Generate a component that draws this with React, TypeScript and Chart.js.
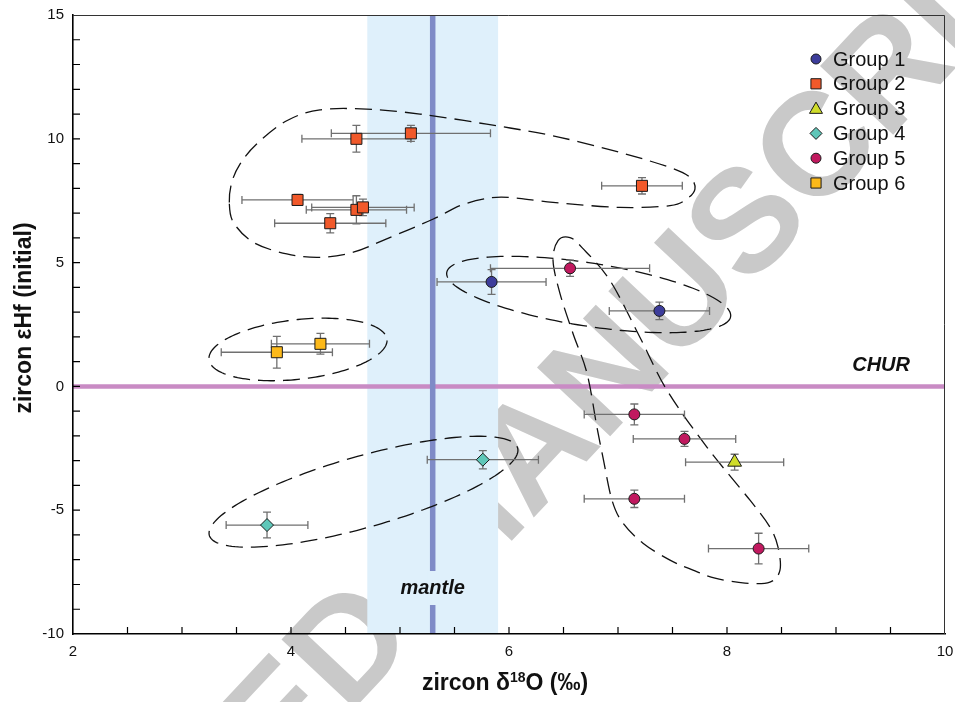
import React, { useEffect, useRef } from 'react';
import { Chart, registerables } from 'chart.js';

Chart.register(...registerables);

// ---- data -------------------------------------------------------------
const groupLabels = ['Group 1', 'Group 2', 'Group 3', 'Group 4', 'Group 5', 'Group 6'];

// zircon δ18O (‰), εHf(initial) and their uncertainties per group
const g1D18O = [5.84, 7.38];
const g1EHf = [4.22, 3.05];
const g1D18OErr = [0.5, 0.46];
const g1EHfErr = [0.5, 0.35];

const g2D18O = [4.6, 5.1, 4.06, 4.6, 4.66, 4.36, 7.22];
const g2EHf = [10.0, 10.22, 7.53, 7.13, 7.23, 6.59, 8.1];
const g2D18OErr = [0.5, 0.73, 0.51, 0.46, 0.47, 0.51, 0.37];
const g2EHfErr = [0.54, 0.32, 0.22, 0.57, 0.33, 0.39, 0.33];

const g3D18O = [8.07];
const g3EHf = [-3.06];
const g3D18OErr = [0.45];
const g3EHfErr = [0.32];

const g4D18O = [5.76, 3.78];
const g4EHf = [-2.96, -5.6];
const g4D18OErr = [0.51, 0.375];
const g4EHfErr = [0.37, 0.52];

const g5D18O = [6.56, 7.15, 7.61, 7.15, 8.29];
const g5EHf = [4.77, -1.13, -2.12, -4.54, -6.55];
const g5D18OErr = [0.73, 0.46, 0.47, 0.46, 0.46];
const g5EHfErr = [0.33, 0.42, 0.3, 0.35, 0.62];

const g6D18O = [3.87, 4.27];
const g6EHf = [1.38, 1.72];
const g6D18OErr = [0.51, 0.45];
const g6EHfErr = [0.64, 0.42];

// axis ranges and labelled ticks
const xRange = [2, 10];
const yRange = [-10, 15];
const xLabelStep = 2;
const yLabelStep = 5;
const xMinorStep = 0.5;
const yMinorStep = 1;

// mantle zircon δ18O band and its mean, chondritic reference
const mantleBand = [4.7, 5.9];
const mantleMean = 5.3;
const churEHf = 0;

// grouping outlines (data units)
const group2Outline = [
  [3.434, 7.43], [3.456, 8.23], [3.532, 8.98], [3.685, 9.79], [3.961, 10.73], [4.266, 11.17],
  [4.694, 11.2], [5.183, 11.0], [5.795, 10.59], [6.404, 10.12], [7.018, 9.45], [7.477, 8.84],
  [7.661, 8.44], [7.706, 7.97], [7.63, 7.57], [7.477, 7.3], [7.018, 7.23], [6.404, 7.43],
  [6.009, 7.63], [5.795, 7.59], [5.55, 7.3], [5.306, 6.76], [4.878, 5.96], [4.572, 5.42],
  [4.266, 5.21], [3.961, 5.35], [3.654, 5.82], [3.471, 6.63],
];
const group5Outline = [
  [6.45, 5.887], [6.56, 6.008], [6.67, 5.605], [6.927, 4.274], [7.202, 1.976], [7.45, -0.161],
  [7.817, -2.46], [8.211, -4.597], [8.394, -5.685], [8.468, -6.492], [8.486, -7.419],
  [8.394, -7.903], [8.165, -7.944], [7.89, -7.742], [7.688, -7.419], [7.477, -7.016],
  [7.229, -6.331], [7.046, -5.524], [6.945, -4.597], [6.862, -2.863], [6.807, -1.653],
  [6.716, 0.524], [6.587, 2.137], [6.468, 3.75], [6.404, 5.081],
];
// ellipses: centre and two conjugate semi-diameters
const group6Ellipse = { c: [4.064, 1.492], u: [0.817, 0.363], v: [0, -1.21] };
const group15Ellipse = { c: [6.731, 3.71], u: [1.303, -0.847], v: [0, -1.29] };
const group4Ellipse = { c: [4.665, -4.254], u: [1.417, 1.673], v: [0, -1.492] };

// ---- styles -----------------------------------------------------------
const groupColors = ['#3d3d9b', '#f1592a', '#cfdc2a', '#5fc7b9', '#c1195f', '#fcb91a'];
const groupShapes = ['circle', 'rect', 'triangle', 'rectRot', 'circle', 'rect'];
const groupRadii = [5.5, 7.8, 8, 6.5, 5.5, 7.8];
const FONT = "'Liberation Sans', Arial, Helvetica, sans-serif";

const groups = [
  [g1D18O, g1EHf, g1D18OErr, g1EHfErr],
  [g2D18O, g2EHf, g2D18OErr, g2EHfErr],
  [g3D18O, g3EHf, g3D18OErr, g3EHfErr],
  [g4D18O, g4EHf, g4D18OErr, g4EHfErr],
  [g5D18O, g5EHf, g5D18OErr, g5EHfErr],
  [g6D18O, g6EHf, g6D18OErr, g6EHfErr],
];

const px = (chart: any, x: number, y: number) => [
  chart.scales.x.getPixelForValue(x),
  chart.scales.y.getPixelForValue(y),
];

function smoothClosed(ctx: CanvasRenderingContext2D, pts: number[][]) {
  const n = pts.length;
  ctx.moveTo(pts[0][0], pts[0][1]);
  for (let i = 0; i < n; i++) {
    const p0 = pts[(i - 1 + n) % n];
    const p1 = pts[i];
    const p2 = pts[(i + 1) % n];
    const p3 = pts[(i + 2) % n];
    ctx.bezierCurveTo(
      p1[0] + (p2[0] - p0[0]) / 6, p1[1] + (p2[1] - p0[1]) / 6,
      p2[0] - (p3[0] - p1[0]) / 6, p2[1] - (p3[1] - p1[1]) / 6,
      p2[0], p2[1]
    );
  }
  ctx.closePath();
}

function ellipsePath(chart: any, ctx: CanvasRenderingContext2D, e: any) {
  const steps = 160;
  for (let k = 0; k <= steps; k++) {
    const t = (2 * Math.PI * k) / steps;
    const x = e.c[0] + e.u[0] * Math.cos(t) + e.v[0] * Math.sin(t);
    const y = e.c[1] + e.u[1] * Math.cos(t) + e.v[1] * Math.sin(t);
    const [X, Y] = px(chart, x, y);
    if (k === 0) ctx.moveTo(X, Y);
    else ctx.lineTo(X, Y);
  }
  ctx.closePath();
}

function drawMarker(ctx: CanvasRenderingContext2D, shape: string, x: number, y: number, r: number) {
  ctx.beginPath();
  if (shape === 'circle') {
    ctx.arc(x, y, r, 0, Math.PI * 2);
  } else if (shape === 'rect') {
    const s = r * Math.SQRT1_2;
    ctx.rect(x - s, y - s, 2 * s, 2 * s);
  } else if (shape === 'triangle') {
    for (let k = 0; k < 3; k++) {
      const a = (k * 2 * Math.PI) / 3;
      const X = x + Math.sin(a) * r;
      const Y = y - Math.cos(a) * r;
      if (k === 0) ctx.moveTo(X, Y);
      else ctx.lineTo(X, Y);
    }
    ctx.closePath();
  } else {
    ctx.moveTo(x, y - r);
    ctx.lineTo(x + r, y);
    ctx.lineTo(x, y + r);
    ctx.lineTo(x - r, y);
    ctx.closePath();
  }
  ctx.fill();
  ctx.stroke();
}

// watermark, mantle band and reference lines under everything
const backdrop = {
  id: 'backdrop',
  beforeDraw(chart: any) {
    const { ctx, chartArea: a } = chart;
    ctx.save();
    ctx.translate(463, 534);
    ctx.rotate((-46.8 * Math.PI) / 180);
    ctx.font = `bold 146px ${FONT}`;
    ctx.fillStyle = '#c9c9c9';
    ctx.textAlign = 'center';
    ctx.textBaseline = 'middle';
    ctx.fillText('ACCEPTED MANUSCRIPT', 0, 0);
    ctx.restore();

    const [b0] = px(chart, mantleBand[0], 0);
    const [b1] = px(chart, mantleBand[1], 0);
    ctx.save();
    ctx.fillStyle = '#dff0fb';
    ctx.fillRect(b0, a.top, b1 - b0, a.bottom - a.top);

    const [, cy] = px(chart, 0, churEHf);
    ctx.strokeStyle = '#c98bc4';
    ctx.lineWidth = 4.5;
    ctx.beginPath();
    ctx.moveTo(a.left, cy);
    ctx.lineTo(a.right, cy);
    ctx.stroke();

    const [mx] = px(chart, mantleMean, 0);
    ctx.strokeStyle = '#7f8bc7';
    ctx.lineWidth = 5.5;
    ctx.beginPath();
    ctx.moveTo(mx, a.top);
    ctx.lineTo(mx, a.bottom);
    ctx.stroke();
    ctx.restore();
  },
};

// labels, group outlines and error bars under the symbols
const overlays = {
  id: 'overlays',
  beforeDatasetsDraw(chart: any) {
    const { ctx, chartArea: a } = chart;
    ctx.save();
    // mantle label sits on the band, interrupting the mean line
    const [mx] = px(chart, mantleMean, 0);
    const ly = a.bottom - 46;
    ctx.fillStyle = '#dff0fb';
    ctx.fillRect(mx - 5, ly - 17, 10, 34);
    ctx.fillStyle = '#111';
    ctx.font = `italic bold 20px ${FONT}`;
    ctx.textAlign = 'center';
    ctx.textBaseline = 'middle';
    ctx.fillText('mantle', mx, ly);

    const [, cy] = px(chart, 0, churEHf);
    ctx.textAlign = 'right';
    ctx.fillText('CHUR', a.right - 35, cy - 21);

    // dashed grouping outlines
    ctx.strokeStyle = '#111';
    ctx.lineWidth = 1.3;
    ctx.setLineDash([17, 8]);
    ctx.beginPath();
    smoothClosed(ctx, group2Outline.map((p) => px(chart, p[0], p[1])));
    ctx.stroke();
    ctx.beginPath();
    smoothClosed(ctx, group5Outline.map((p) => px(chart, p[0], p[1])));
    ctx.stroke();
    for (const e of [group6Ellipse, group15Ellipse, group4Ellipse]) {
      ctx.beginPath();
      ellipsePath(chart, ctx, e);
      ctx.stroke();
    }
    ctx.setLineDash([]);

    // 1σ error bars
    ctx.strokeStyle = '#707070';
    ctx.lineWidth = 1.3;
    const cap = 4;
    chart.data.datasets.forEach((ds: any) => {
      ds.data.forEach((p: any, i: number) => {
        const [X, Y] = px(chart, p.x, p.y);
        const [x0] = px(chart, p.x - ds.xErr[i], 0);
        const [x1] = px(chart, p.x + ds.xErr[i], 0);
        const [, y0] = px(chart, 0, p.y - ds.yErr[i]);
        const [, y1] = px(chart, 0, p.y + ds.yErr[i]);
        ctx.beginPath();
        ctx.moveTo(x0, Y); ctx.lineTo(x1, Y);
        ctx.moveTo(x0, Y - cap); ctx.lineTo(x0, Y + cap);
        ctx.moveTo(x1, Y - cap); ctx.lineTo(x1, Y + cap);
        ctx.moveTo(X, y0); ctx.lineTo(X, y1);
        ctx.moveTo(X - cap, y0); ctx.lineTo(X + cap, y0);
        ctx.moveTo(X - cap, y1); ctx.lineTo(X + cap, y1);
        ctx.stroke();
      });
    });
    ctx.restore();
  },
};

// frame, inward ticks, axis titles and legend
const furniture = {
  id: 'furniture',
  afterDraw(chart: any) {
    const { ctx, chartArea: a } = chart;
    ctx.save();
    ctx.strokeStyle = '#333';
    ctx.lineWidth = 1;
    ctx.beginPath();
    ctx.moveTo(a.left, a.top + 0.5);
    ctx.lineTo(a.right - 0.5, a.top + 0.5);
    ctx.lineTo(a.right - 0.5, a.bottom);
    ctx.stroke();

    ctx.strokeStyle = '#000';
    ctx.lineWidth = 1.2;
    ctx.beginPath();
    for (let v = xRange[0] + xMinorStep; v < xRange[1] - 1e-9; v += xMinorStep) {
      const [X] = px(chart, v, 0);
      ctx.moveTo(X, a.bottom);
      ctx.lineTo(X, a.bottom - 7);
    }
    for (let v = yRange[0] + yMinorStep; v < yRange[1] - 1e-9; v += yMinorStep) {
      const [, Y] = px(chart, 0, v);
      ctx.moveTo(a.left, Y);
      ctx.lineTo(a.left + 7, Y);
    }
    ctx.stroke();

    // x title with superscript
    ctx.fillStyle = '#111';
    const big = `bold 23px ${FONT}`;
    const small = `bold 14px ${FONT}`;
    const t1 = 'zircon δ';
    const t2 = '18';
    const t3 = 'O (‰)';
    ctx.font = big;
    const w1 = ctx.measureText(t1).width;
    const w3 = ctx.measureText(t3).width;
    ctx.font = small;
    const w2 = ctx.measureText(t2).width;
    let x = (a.left + a.right) / 2 - 4 - (w1 + w2 + w3) / 2;
    const base = 690;
    ctx.textAlign = 'left';
    ctx.textBaseline = 'alphabetic';
    ctx.font = big;
    ctx.fillText(t1, x, base);
    x += w1;
    ctx.font = small;
    ctx.fillText(t2, x, base - 8);
    x += w2;
    ctx.font = big;
    ctx.fillText(t3, x, base);

    // y title
    ctx.save();
    ctx.translate(25, 318);
    ctx.rotate(-Math.PI / 2);
    ctx.textAlign = 'center';
    ctx.textBaseline = 'middle';
    ctx.font = big;
    ctx.fillText('zircon εHf (initial)', 0, 0);
    ctx.restore();

    // legend
    const lx = a.right - 129;
    const ly = a.top + 44;
    const legendR = [5, 7.2, 7.5, 6, 5, 7.2];
    ctx.font = `20px ${FONT}`;
    ctx.textBaseline = 'middle';
    ctx.lineWidth = 1;
    ctx.strokeStyle = '#1a1a1a';
    groupLabels.forEach((lab, i) => {
      const yy = ly + i * 24.8;
      ctx.fillStyle = groupColors[i];
      drawMarker(ctx, groupShapes[i], lx, yy + (groupShapes[i] === 'triangle' ? 1 : 0), legendR[i]);
      ctx.fillStyle = '#111';
      ctx.fillText(lab, lx + 17, yy + 1);
    });
    ctx.restore();
  },
};

export default function App() {
  const ref = useRef<HTMLCanvasElement>(null);

  useEffect(() => {
    document.body.style.margin = '0';
    Chart.defaults.font.family = FONT;
    const datasets = groups.map((g, i) => ({
      label: groupLabels[i],
      data: g[0].map((x, k) => ({ x, y: g[1][k] })),
      xErr: g[2],
      yErr: g[3],
      pointStyle: groupShapes[i],
      pointRadius: groupRadii[i],
      pointHoverRadius: groupRadii[i],
      backgroundColor: groupColors[i],
      borderColor: '#1a1a1a',
      borderWidth: 1,
      showLine: false,
    }));

    const chart = new Chart(ref.current as HTMLCanvasElement, {
      type: 'scatter',
      data: { datasets } as any,
      options: {
        animation: false,
        responsive: false,
        devicePixelRatio: 1,
        layout: { padding: { top: 15, right: 10, left: 0, bottom: 0 } },
        plugins: { legend: { display: false }, tooltip: { enabled: false } },
        scales: {
          x: {
            type: 'linear',
            min: xRange[0],
            max: xRange[1],
            afterFit: (s: any) => { s.height = 68; s.paddingLeft = 0; s.paddingRight = 0; },
            grid: { display: false, drawTicks: false },
            border: { display: true, color: '#000', width: 1.6 },
            ticks: { stepSize: xLabelStep, padding: 9, color: '#111', font: { size: 15 } },
          },
          y: {
            type: 'linear',
            min: yRange[0],
            max: yRange[1],
            afterFit: (s: any) => { s.width = 73; s.paddingTop = 0; s.paddingBottom = 0; },
            grid: { display: false, drawTicks: false },
            border: { display: true, color: '#000', width: 1.6 },
            ticks: { stepSize: yLabelStep, padding: 9, color: '#111', font: { size: 15 } },
          },
        },
      },
      plugins: [backdrop, overlays, furniture],
    } as any);
    return () => chart.destroy();
  }, []);

  return (
    <div style={{ width: 955, height: 702 }}>
      <canvas ref={ref} width={955} height={702} style={{ display: 'block', width: 955, height: 702 }} />
    </div>
  );
}
